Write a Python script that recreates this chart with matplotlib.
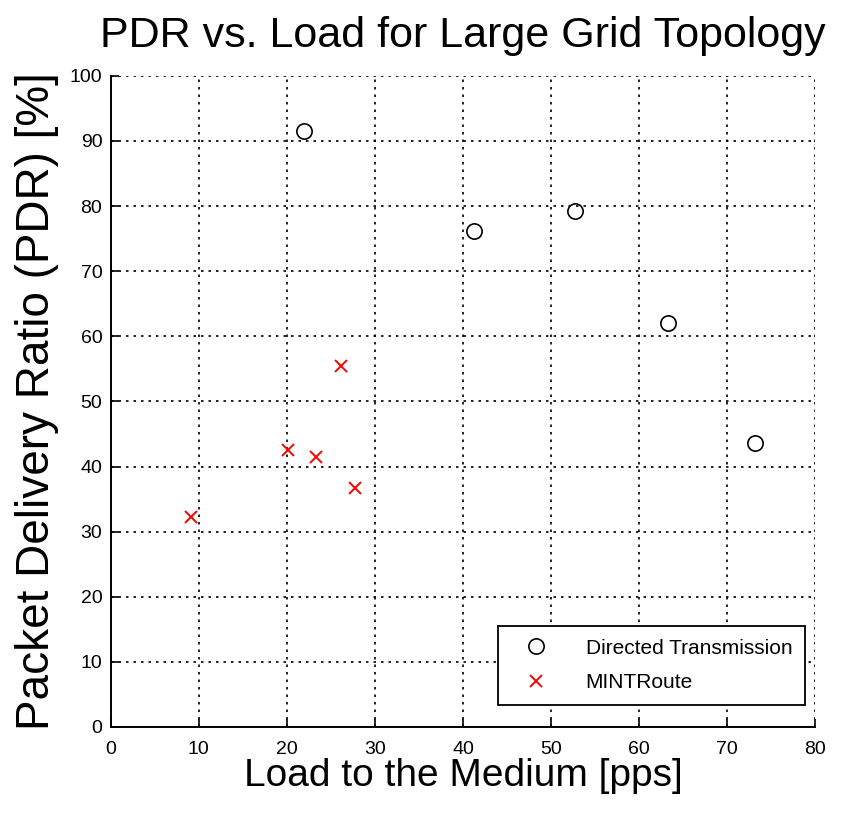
import matplotlib.pyplot as plt

plt.rcParams['font.family'] = ['Liberation Sans', 'DejaVu Sans']

# load [pps] and PDR [%] for each scheme
dt_load = [22.0, 41.2, 52.7, 63.3, 73.2]
dt_pdr = [91.5, 76.2, 79.3, 62.1, 43.6]
mint_load = [9.1, 20.1, 23.3, 26.1, 27.7]
mint_pdr = [32.3, 42.5, 41.5, 55.5, 36.7]

fig = plt.figure(figsize=(8.51, 8.15), dpi=100)
ax = fig.add_axes([0.130, 0.108, 0.828, 0.799])

ax.plot(dt_load, dt_pdr, 'o', markersize=11, markerfacecolor='none',
        markeredgecolor='black', markeredgewidth=1.2, linestyle='none',
        label='Directed Transmission')
ax.plot(mint_load, mint_pdr, 'x', markersize=8, color='red',
        markeredgewidth=1.4, linestyle='none', label='MINTRoute')

ax.set_xlim(0, 80)
ax.set_ylim(0, 100)
ax.set_xticks(range(0, 81, 10))
ax.set_yticks(range(0, 101, 10))
ax.grid(True, color='black', linestyle=(0, (1.5, 3)), linewidth=1.2)
ax.set_axisbelow(True)
for side in ['top', 'right']:
    ax.spines[side].set_visible(False)
for side in ['left', 'bottom']:
    ax.spines[side].set_linewidth(1.4)
ax.tick_params(direction='in', length=6, width=1.2, labelsize=14)
ax.tick_params(axis='x', pad=10)
ax.tick_params(axis='y', pad=6)

ax.set_title('PDR vs. Load for Large Grid Topology', fontsize=31, pad=21)
ax.set_xlabel('Load to the Medium [pps]', fontsize=28, labelpad=0)
ax.set_ylabel('Packet Delivery Ratio (PDR) [%]', fontsize=33, labelpad=8)

leg = ax.legend(loc='lower right', fontsize=15, frameon=True, fancybox=False,
                edgecolor='black', borderpad=0.6, handletextpad=1.2,
                handlelength=2.4, labelspacing=0.75,
                bbox_to_anchor=(1.0, 0.018))
leg.get_frame().set_linewidth(1.3)
leg.get_frame().set_alpha(1)

fig.savefig('out.png', dpi=100)
